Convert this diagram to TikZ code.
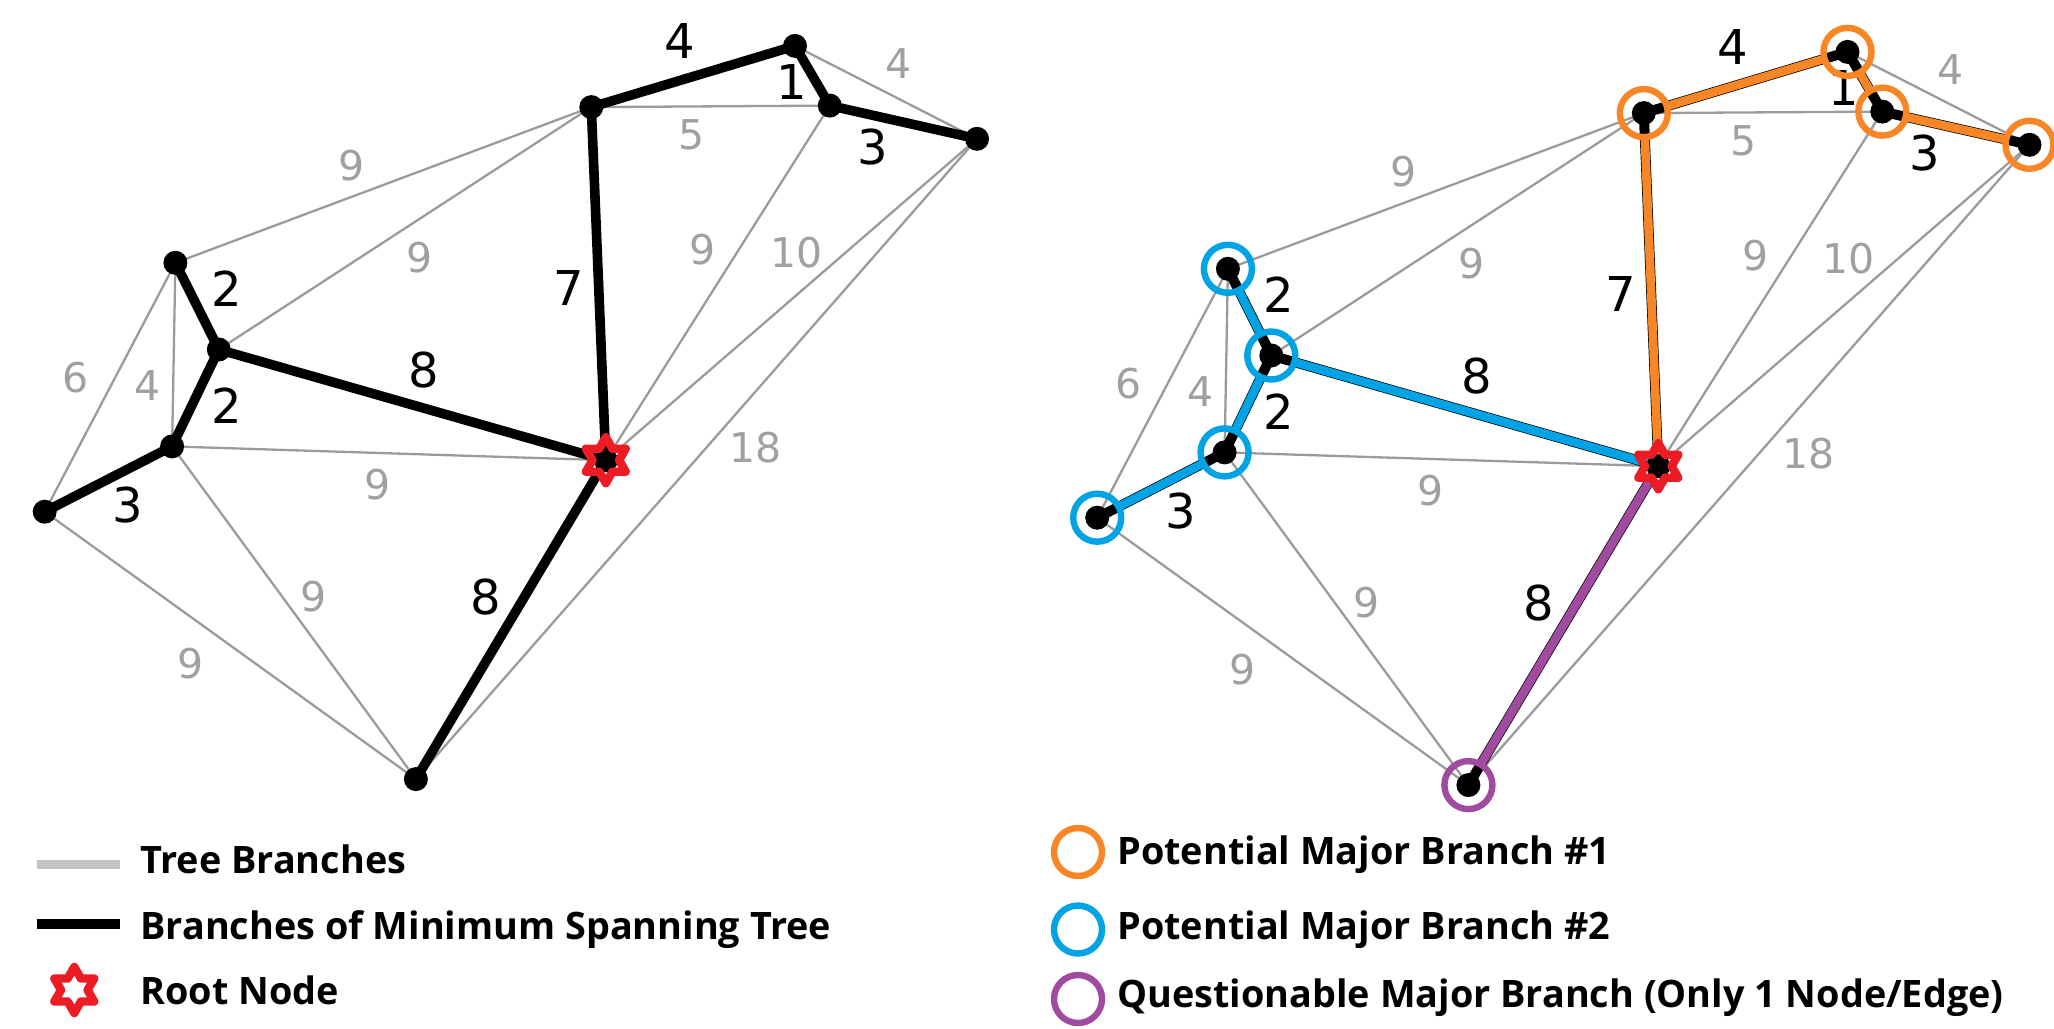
\documentclass[tikz,border=0pt]{standalone}
\usepackage{fontspec}
\setmainfont{Open Sans}
\newfontfamily\labfont{DejaVu Sans}
\definecolor{edgegray}{RGB}{155,155,155}
\definecolor{labgray}{RGB}{160,160,160}
\definecolor{leggray}{RGB}{195,195,195}
\definecolor{mborange}{RGB}{246,134,38}
\definecolor{mbblue}{RGB}{0,163,228}
\definecolor{mbpurple}{RGB}{160,75,160}
\definecolor{rootred}{RGB}{237,28,36}

\newcommand\gcoords[1]{%
  \coordinate (#1A) at (591.3,107.1);
  \coordinate (#1B) at (795,45.9);
  \coordinate (#1C) at (829.8,105.6);
  \coordinate (#1D) at (977,138.8);
  \coordinate (#1E) at (175.4,262.8);
  \coordinate (#1F) at (218.8,349.5);
  \coordinate (#1G) at (172.1,446.4);
  \coordinate (#1H) at (44.7,511.7);
  \coordinate (#1R) at (605.8,460.2);
  \coordinate (#1I) at (415.9,779.1);
}
\newcommand\gedges[1]{%
  \draw[gedge] (#1B) -- (#1D);
  \draw[gedge] (#1A) -- (#1C);
  \draw[gedge] (#1A) -- (#1E);
  \draw[gedge] (#1A) -- (#1F);
  \draw[gedge] (#1C) -- (#1R);
  \draw[gedge] (#1D) -- (#1R);
  \draw[gedge] (#1D) -- (#1I);
  \draw[gedge] (#1E) -- (#1H);
  \draw[gedge] (#1E) -- (#1G);
  \draw[gedge] (#1G) -- (#1R);
  \draw[gedge] (#1G) -- (#1I);
  \draw[gedge] (#1H) -- (#1I);
}
\newcommand\glabels[1]{%
  \node[blab] (#1lAB) at (680,40.8) {4};
  \node[blab] (#1lBC) at (791.7,81.6) {1};
  \node[blab] (#1lCD) at (872.5,146.9) {3};
  \node[blab] (#1lAR) at (568.3,288.3) {7};
  \node[blab] (#1lEF) at (226.7,288.3) {2};
  \node[blab] (#1lFG) at (226.7,405.6) {2};
  \node[blab] (#1lFR) at (423.8,369.9) {8};
  \node[blab] (#1lGH) at (128.1,505.1) {3};
  \node[blab] (#1lRI) at (486.2,596.9) {8};
  \node[glab] (#1lBD) at (898.2,63.8) {4};
  \node[glab] (#1lAC) at (691.2,135.2) {5};
  \node[glab] (#1lAE) at (351.5,165.8) {9};
  \node[glab] (#1lAF) at (419.2,257.7) {9};
  \node[glab] (#1lCR) at (703,250) {9};
  \node[glab] (#1lDR) at (796.3,252.6) {10};
  \node[glab] (#1lDI) at (755.6,448) {18};
  \node[glab] (#1lEH) at (75.6,377.6) {6};
  \node[glab] (#1lEG) at (147.8,385.2) {4};
  \node[glab] (#1lGR) at (377.8,484.7) {9};
  \node[glab] (#1lGI) at (314,597) {9};
  \node[glab] (#1lHI) at (190.5,663.3) {9};
}
\newcommand\gdots[1]{%
  \node[dot] (#1dA) at (#1A) {};
  \node[dot] (#1dB) at (#1B) {};
  \node[dot] (#1dC) at (#1C) {};
  \node[dot] (#1dD) at (#1D) {};
  \node[dot] (#1dE) at (#1E) {};
  \node[dot] (#1dF) at (#1F) {};
  \node[dot] (#1dG) at (#1G) {};
  \node[dot] (#1dH) at (#1H) {};
  \node[dot] (#1dR) at (#1R) {};
  \node[dot] (#1dI) at (#1I) {};
}
% six-pointed star outline centred on a named coordinate
\newcommand\hexstar[1]{%
  \draw[starline, shift={(#1)}]
    (90:11.5pt) -- (120:6.64pt) -- (150:11.5pt) -- (180:6.64pt) -- (210:11.5pt) -- (240:6.64pt)
    -- (270:11.5pt) -- (300:6.64pt) -- (330:11.5pt) -- (0:6.64pt) -- (30:11.5pt) -- (60:6.64pt) -- cycle;
}

\begin{document}
\begin{tikzpicture}[x=0.5pt,y=-0.5pt,
  gedge/.style={draw=edgegray, line width=1.15pt},
  medge/.style={draw=black, line width=4.8pt},
  under/.style={draw=black, line width=5pt},
  cedge/.style={line width=4.3pt},
  dot/.style={circle, fill=black, inner sep=0pt, minimum size=12pt},
  ring/.style={circle, draw, line width=3.2pt, inner sep=0pt, minimum size=24pt},
  starline/.style={draw=rootred, line width=4.2pt, line join=round},
  glab/.style={text=labgray, font=\labfont\fontsize{20.5}{20.5}\selectfont, inner sep=0pt},
  blab/.style={text=black, font=\labfont\fontsize{24}{24}\selectfont, inner sep=0pt},
  legtext/.style={font=\bfseries\fontsize{18.9}{20}\selectfont, anchor=base west, inner sep=0pt}]
\useasboundingbox (0,0) rectangle (2054,1028);

% ---------- left graph ----------
\gcoords{L}
\gedges{L}
\glabels{L}
\draw[medge] (LA) -- (LB);
\draw[medge] (LB) -- (LC);
\draw[medge] (LC) -- (LD);
\draw[medge] (LA) -- (LR);
\draw[medge] (LE) -- (LF);
\draw[medge] (LF) -- (LG);
\draw[medge] (LF) -- (LR);
\draw[medge] (LG) -- (LH);
\draw[medge] (LR) -- (LI);
\gdots{L}
\hexstar{LR}

% ---------- right graph ----------
\begin{scope}[shift={(1052.5,6)}]
\gcoords{Q}
\gedges{Q}
\glabels{Q}
\draw[under] (QA) -- (QB);
\draw[under] (QB) -- (QC);
\draw[under] (QC) -- (QD);
\draw[under] (QA) -- (QR);
\draw[under] (QE) -- (QF);
\draw[under] (QF) -- (QG);
\draw[under] (QF) -- (QR);
\draw[under] (QG) -- (QH);
\draw[under] (QR) -- (QI);
\draw[cedge, mborange, shorten <=12pt, shorten >=12pt] (QA) -- (QB);
\draw[cedge, mborange, shorten <=12pt, shorten >=12pt] (QB) -- (QC);
\draw[cedge, mborange, shorten <=12pt, shorten >=12pt] (QC) -- (QD);
\draw[cedge, mborange, shorten <=12pt] (QA) -- (QR);
\draw[cedge, mbblue, shorten <=12pt, shorten >=12pt] (QE) -- (QF);
\draw[cedge, mbblue, shorten <=12pt, shorten >=12pt] (QF) -- (QG);
\draw[cedge, mbblue, shorten <=12pt] (QF) -- (QR);
\draw[cedge, mbblue, shorten <=12pt, shorten >=12pt] (QG) -- (QH);
\draw[cedge, mbpurple, shorten >=12pt] (QR) -- (QI);
\gdots{Q}
\node[ring, draw=mborange] (QrA) at (QA) {};
\node[ring, draw=mborange] (QrB) at (QB) {};
\node[ring, draw=mborange] (QrC) at (QC) {};
\node[ring, draw=mborange] (QrD) at (QD) {};
\node[ring, draw=mbblue] (QrE) at (QE) {};
\node[ring, draw=mbblue] (QrF) at (QF) {};
\node[ring, draw=mbblue] (QrG) at (QG) {};
\node[ring, draw=mbblue] (QrH) at (QH) {};
\node[ring, draw=mbpurple] (QrI) at (QI) {};
\hexstar{QR}
\end{scope}

% ---------- left legend ----------
\coordinate (lg1) at (36.7,864.7);
\coordinate (lg2) at (120,864.7);
\draw[leggray, line width=4.6pt] (lg1) -- (lg2);
\coordinate (lb1) at (36.7,923.7);
\coordinate (lb2) at (120,923.7);
\draw[black, line width=4.8pt] (lb1) -- (lb2);
\coordinate (legstar) at (74.3,990);
\hexstar{legstar}
\node[legtext] (t1) at (140,873.3) {Tree Branches};
\node[legtext] (t2) at (140,939) {Branches of Minimum Spanning Tree};
\node[legtext] (t3) at (140,1004) {Root Node};

% ---------- right legend ----------
\node[ring, draw=mborange] (lo) at (1078,852) {};
\node[ring, draw=mbblue] (lbl) at (1078,929.5) {};
\node[ring, draw=mbpurple] (lp) at (1078,999) {};
\node[legtext] (t4) at (1117,864) {Potential Major Branch \#1};
\node[legtext] (t5) at (1117,939) {Potential Major Branch \#2};
\node[legtext] (t6) at (1117,1007) {Questionable Major Branch (Only 1 Node/Edge)};
\end{tikzpicture}
\end{document}
